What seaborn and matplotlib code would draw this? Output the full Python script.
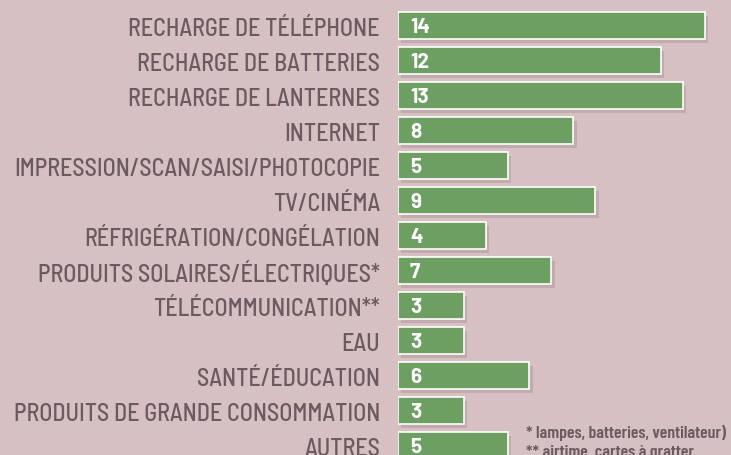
import matplotlib
matplotlib.use("Agg")
import matplotlib.pyplot as plt
import matplotlib.patheffects as pe
import pandas as pd
import seaborn as sns

# données
categories = [
    "RECHARGE DE TÉLÉPHONE",
    "RECHARGE DE BATTERIES",
    "RECHARGE DE LANTERNES",
    "INTERNET",
    "IMPRESSION/SCAN/SAISI/PHOTOCOPIE",
    "TV/CINÉMA",
    "RÉFRIGÉRATION/CONGÉLATION",
    "PRODUITS SOLAIRES/ÉLECTRIQUES*",
    "TÉLÉCOMMUNICATION**",
    "EAU",
    "SANTÉ/ÉDUCATION",
    "PRODUITS DE GRANDE CONSOMMATION",
    "AUTRES",
]
valeurs = [14, 12, 13, 8, 5, 9, 4, 7, 3, 3, 6, 3, 5]
notes = ["* lampes, batteries, ventilateur)", "** airtime, cartes à gratter"]

fond = "#d6c0c2"
vert = "#6d9e62"
texte = "#6b5a60"
police = ["Barlow Semi Condensed", "Barlow Condensed", "DejaVu Sans"]
police_notes = ["Barlow Condensed", "DejaVu Sans"]
police_chiffres = ["Barlow", "Barlow Semi Condensed", "DejaVu Sans"]

sns.set_style("white")
plt.rcParams["font.family"] = police

df = pd.DataFrame({"categorie": categories, "valeur": valeurs})

fig = plt.figure(figsize=(7.31, 4.56), dpi=100, facecolor=fond)
ax = fig.add_axes([398 / 731, 0, 333 / 731, 1])
ax.set_facecolor(fond)

sns.barplot(data=df, x="valeur", y="categorie", color=vert, width=0.77,
            edgecolor="white", linewidth=1.2, saturation=1, ax=ax)

for barre in ax.patches:
    barre.set_path_effects([
        pe.SimplePatchShadow(offset=(2.5, -2.5), shadow_rgbFace="#9a8488", alpha=0.35),
        pe.Normal(),
    ])

for i, v in enumerate(valeurs):
    ax.text(0.55, i + 0.03, str(v), color="white", fontsize=15, fontweight="bold",
            va="center", ha="left", family=police_chiffres)

ax.set_xlim(0, 333 / 21.9)
ax.set_ylim(12.26, -0.77)
ax.set_xlabel("")
ax.set_ylabel("")
ax.set_xticks([])
ax.tick_params(axis="y", length=0, pad=13, labelsize=17.3, labelcolor=texte)
for lab in ax.get_yticklabels():
    lab.set_family(police)
    lab.set_fontweight(500)
for s in ax.spines.values():
    s.set_visible(False)

fig.text(526 / 731, 1 - 433 / 456, notes[0], color=texte, fontsize=12.8,
         fontweight=600, va="center", ha="left", family=police_notes)
fig.text(526 / 731, 1 - 453 / 456, notes[1], color=texte, fontsize=12.8,
         fontweight=600, va="center", ha="left", family=police_notes)

fig.savefig("out.png", dpi=100, facecolor=fond)
